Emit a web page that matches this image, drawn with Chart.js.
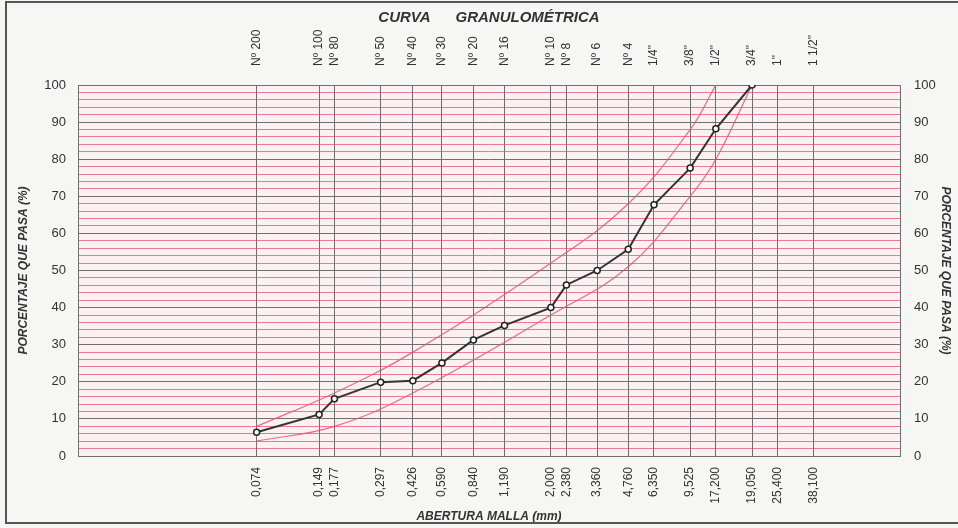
<!DOCTYPE html>
<html>
<head>
<meta charset="utf-8">
<script src="https://cdn.jsdelivr.net/npm/chart.js@4/dist/chart.umd.min.js"></script>
<style>
  html, body { margin: 0; padding: 0; background: #f6f6f4; }
  #wrap { position: relative; width: 958px; height: 528px; overflow: hidden; }
  #frame { position: absolute; left: 5px; top: 1px; width: 970px; height: 523px;
           border: 2px solid #555; box-sizing: border-box; pointer-events: none; }
  canvas { position: absolute; left: 0; top: 0; }
</style>
</head>
<body>
<div id="wrap">
  <canvas id="chart" width="958" height="528"></canvas>
  <div id="frame"></div>
</div>
<script>
// sieve openings (mm) and their names
const sieveNames = ['Nº 200', 'Nº 100', 'Nº 80', 'Nº 50', 'Nº 40', 'Nº 30', 'Nº 20', 'Nº 16',
  'Nº 10', 'Nº 8', 'Nº 6', 'Nº 4', '1/4"', '3/8"', '1/2"', '3/4"', '1"', '1 1/2"'];
const sieveOpenings = [0.074, 0.149, 0.177, 0.297, 0.426, 0.590, 0.840, 1.190,
  2.000, 2.380, 3.360, 4.760, 6.350, 9.525, 12.700, 19.050, 25.400, 38.100];
const openingLabels = ['0,074', '0,149', '0,177', '0,297', '0,426', '0,590', '0,840', '1,190',
  '2,000', '2,380', '3,360', '4,760', '6,350', '9,525', '17,200', '19,050', '25,400', '38,100'];

// % passing of the sample
const passing = [6.4, 11.2, 15.4, 19.9, 20.3, 25.1, 31.3, 35.2,
  40.0, 46.1, 50.0, 55.7, 67.7, 77.6, 88.2, 100, null, null];

// gradation band limits
const specOpenings = [0.074, 0.177, 0.426, 2.000, 4.760, 9.525, 12.700, 19.050];
const specUpper = [8, 17, 28, 52, 68, 88, 100, null];
const specLower = [4, 8, 17, 38, 51, 70, 80, 100];

const yTicks = [0, 10, 20, 30, 40, 50, 60, 70, 80, 90, 100];

const FONT = "'Liberation Sans', Arial, sans-serif";
const GREY = '#6f6f6f';
const PINK = 'rgba(228, 80, 115, 0.75)';
const BAND = 'rgba(240, 80, 110, 0.85)';

const toXY = (xs, ys) => xs.map((x, i) => ({ x: x, y: ys[i] }));

const plotBg = {
  id: 'plotBg',
  beforeDraw(chart) {
    const { ctx, chartArea: a } = chart;
    ctx.save();
    ctx.fillStyle = '#fbf1f3';
    ctx.fillRect(a.left, a.top, a.right - a.left, a.bottom - a.top);
    ctx.restore();
  }
};

const sieveTicks = scale => { scale.ticks = sieveOpenings.map(v => ({ value: v })); };
const yLabel = v => (yTicks.includes(v) ? String(v) : '');

new Chart(document.getElementById('chart'), {
  type: 'line',
  data: {
    datasets: [
      {
        label: 'Muestra',
        data: toXY(sieveOpenings, passing),
        borderColor: '#333',
        borderWidth: 2,
        pointRadius: 3,
        pointBackgroundColor: '#fff',
        pointBorderColor: '#222',
        pointBorderWidth: 1.5,
        tension: 0,
        spanGaps: false,
        order: 0
      },
      {
        label: 'Límite superior',
        data: toXY(specOpenings, specUpper),
        borderColor: BAND,
        borderWidth: 1.2,
        pointRadius: 0,
        tension: 0.4,
        spanGaps: false,
        order: 1
      },
      {
        label: 'Límite inferior',
        data: toXY(specOpenings, specLower),
        borderColor: BAND,
        borderWidth: 1.2,
        pointRadius: 0,
        tension: 0.4,
        order: 1
      }
    ]
  },
  options: {
    responsive: false,
    animation: false,
    devicePixelRatio: 1,
    layout: { padding: 0 },
    plugins: {
      legend: { display: false },
      tooltip: { enabled: false }
    },
    scales: {
      x: {
        type: 'logarithmic',
        position: 'bottom',
        min: 0.01,
        max: 100,
        afterBuildTicks: sieveTicks,
        afterFit: s => { s.height = 72; },
        ticks: {
          autoSkip: false, minRotation: 90, maxRotation: 90, padding: 11,
          color: '#333', font: { family: FONT, size: 12 },
          callback: (v, i) => openingLabels[i]
        },
        grid: { color: GREY, lineWidth: 1, drawTicks: false },
        border: { color: GREY, width: 1 },
        title: {
          display: true, text: 'ABERTURA MALLA (mm)', color: '#333',
          font: { family: FONT, size: 12, weight: 'bold', style: 'italic' },
          padding: { top: 0, bottom: 4 }
        }
      },
      xTop: {
        type: 'logarithmic',
        position: 'top',
        min: 0.01,
        max: 100,
        afterBuildTicks: sieveTicks,
        afterFit: s => { s.height = 85; },
        ticks: {
          autoSkip: false, minRotation: 90, maxRotation: 90, padding: 19,
          labelOffset: 14.4,
          color: '#333', font: { family: FONT, size: 12 },
          callback: (v, i) => sieveNames[i]
        },
        grid: { display: false, drawTicks: false },
        border: { color: GREY, width: 1 },
        title: {
          display: true, text: 'CURVA      GRANULOMÉTRICA', color: '#333',
          font: { family: FONT, size: 15, weight: 'bold', style: 'italic' },
          padding: { top: 9, bottom: 0 }
        }
      },
      y: {
        position: 'left',
        min: 0,
        max: 100,
        afterFit: s => { s.width = 78; },
        ticks: {
          stepSize: 2, autoSkip: false, padding: 12,
          color: '#333', font: { family: FONT, size: 13 },
          callback: yLabel
        },
        grid: {
          drawTicks: false,
          color: c => (c.tick && c.tick.value % 10 === 0 ? GREY : PINK),
          lineWidth: 1
        },
        border: { color: GREY, width: 1 },
        title: {
          display: true, text: 'PORCENTAJE QUE PASA (%)', color: '#333',
          font: { family: FONT, size: 12, weight: 'bold', style: 'italic' },
          padding: { top: 16, bottom: 0 }
        }
      },
      y2: {
        position: 'right',
        min: 0,
        max: 100,
        afterFit: s => { s.width = 58; },
        ticks: {
          stepSize: 2, autoSkip: false, padding: 14,
          color: '#333', font: { family: FONT, size: 13 },
          callback: yLabel
        },
        grid: { display: false, drawTicks: false },
        border: { color: GREY, width: 1 },
        title: {
          display: true, text: 'PORCENTAJE QUE PASA (%)', color: '#333',
          font: { family: FONT, size: 12, weight: 'bold', style: 'italic' },
          padding: { top: 5, bottom: 0 }
        }
      }
    }
  },
  plugins: [plotBg]
});
</script>
</body>
</html>
